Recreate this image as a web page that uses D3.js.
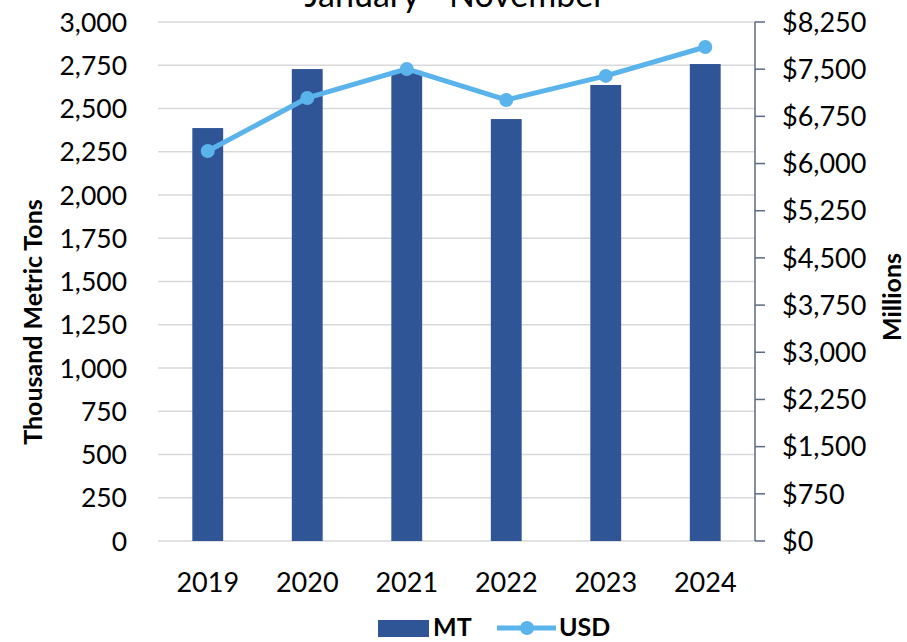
<!DOCTYPE html>
<html>
<head>
<meta charset="utf-8">
<script src="https://cdn.jsdelivr.net/npm/d3@7"></script>
<style>
  body { margin: 0; background: #fff; }
  text { font-family: Lato, "Open Sans", sans-serif; fill: #000; }
</style>
</head>
<body>
<div id="chart"></div>
<script>
var years = ["2019", "2020", "2021", "2022", "2023", "2024"];
var mtValues = [2387, 2728, 2718, 2439, 2636, 2757];
var usdValues = [6200, 7043, 7504, 7011, 7393, 7853];
var leftTicks = d3.range(0, 3001, 250);
var rightTicks = d3.range(0, 8251, 750);

var _width = 907, _height = 642,
  _margins = {top: 22, left: 158, right: 152, bottom: 101};

var svg = d3.select("#chart").append("svg")
  .attr("width", _width)
  .attr("height", _height);

var innerW = _width - _margins.left - _margins.right,
  innerH = _height - _margins.top - _margins.bottom;

var x = d3.scaleBand().domain(years).range([_margins.left, _margins.left + innerW]).paddingInner(0.69).paddingOuter(0.345);
var yL = d3.scaleLinear().domain([0, 3000]).range([_margins.top + innerH, _margins.top]);
var yR = d3.scaleLinear().domain([0, 8250]).range([_margins.top + innerH, _margins.top]);

// title, mostly clipped off the top (as in the original)
svg.append("text")
  .attr("x", 455).attr("y", 7)
  .attr("text-anchor", "middle")
  .style("font-size", "34px")
  .text("January - November");

// gridlines
svg.append("g").selectAll("line")
  .data(leftTicks)
  .enter().append("line")
  .attr("x1", _margins.left).attr("x2", _margins.left + innerW)
  .attr("y1", function (d) { return yL(d); })
  .attr("y2", function (d) { return yL(d); })
  .attr("stroke", "#d9d9d9")
  .attr("stroke-width", 1.5);

// left axis labels
svg.append("g").selectAll("text")
  .data(leftTicks)
  .enter().append("text")
  .attr("x", 127)
  .attr("y", function (d) { return yL(d); })
  .attr("dy", "0.36em")
  .attr("text-anchor", "end")
  .style("font-size", "26.5px")
  .text(function (d) { return d3.format(",")(d); });

// right axis
var rAxis = svg.append("g");
rAxis.append("line")
  .attr("x1", _margins.left + innerW).attr("x2", _margins.left + innerW)
  .attr("y1", yR(0)).attr("y2", yR(8250))
  .attr("stroke", "#5a6a85").attr("stroke-width", 1.5);
rAxis.selectAll("line.tick")
  .data(rightTicks)
  .enter().append("line")
  .attr("class", "tick")
  .attr("x1", _margins.left + innerW).attr("x2", _margins.left + innerW + 10)
  .attr("y1", function (d) { return yR(d); })
  .attr("y2", function (d) { return yR(d); })
  .attr("stroke", "#5a6a85").attr("stroke-width", 1.5);
rAxis.selectAll("text")
  .data(rightTicks)
  .enter().append("text")
  .attr("x", 782)
  .attr("y", function (d) { return yR(d); })
  .attr("dy", "0.36em")
  .style("font-size", "27px")
  .text(function (d) { return "$" + d3.format(",")(d); });

// bars
svg.append("g").selectAll("rect")
  .data(mtValues)
  .enter().append("rect")
  .attr("x", function (d, i) { return x(years[i]); })
  .attr("width", x.bandwidth())
  .attr("y", function (d) { return yL(d); })
  .attr("height", function (d) { return yL(0) - yL(d); })
  .attr("fill", "#2f5597");

// line
var line = d3.line()
  .x(function (d, i) { return x(years[i]) + x.bandwidth() / 2; })
  .y(function (d) { return yR(d); });

svg.append("path")
  .datum(usdValues)
  .attr("d", line)
  .attr("fill", "none")
  .attr("stroke", "#5bb3ec")
  .attr("stroke-width", 5)
  .attr("stroke-linejoin", "round");

svg.append("g").selectAll("circle")
  .data(usdValues)
  .enter().append("circle")
  .attr("cx", function (d, i) { return x(years[i]) + x.bandwidth() / 2; })
  .attr("cy", function (d) { return yR(d); })
  .attr("r", 7)
  .attr("fill", "#5bb3ec");

// x labels
svg.append("g").selectAll("text")
  .data(years)
  .enter().append("text")
  .attr("x", function (d) { return x(d) + x.bandwidth() / 2; })
  .attr("y", 592)
  .attr("text-anchor", "middle")
  .style("font-size", "27px")
  .text(function (d) { return d; });

// axis titles
svg.append("text")
  .attr("transform", "translate(42,322) rotate(-90)")
  .attr("text-anchor", "middle")
  .style("font-size", "25px")
  .style("font-weight", "bold")
  .text("Thousand Metric Tons");

svg.append("text")
  .attr("transform", "translate(901,297) rotate(-90)")
  .attr("text-anchor", "middle")
  .style("font-size", "25px")
  .style("font-weight", "bold")
  .text("Millions");

// legend
var lg = svg.append("g");
lg.append("rect")
  .attr("x", 378).attr("y", 620).attr("width", 51).attr("height", 17)
  .attr("fill", "#2f5597");
lg.append("text")
  .attr("x", 433).attr("y", 636)
  .style("font-size", "25px")
  .style("font-weight", "bold")
  .text("MT");
lg.append("line")
  .attr("x1", 497).attr("x2", 556).attr("y1", 628).attr("y2", 628)
  .attr("stroke", "#5bb3ec").attr("stroke-width", 5);
lg.append("circle")
  .attr("cx", 527).attr("cy", 628).attr("r", 7)
  .attr("fill", "#5bb3ec");
lg.append("text")
  .attr("x", 559).attr("y", 636)
  .style("font-size", "25px")
  .style("font-weight", "bold")
  .text("USD");
</script>
</body>
</html>
